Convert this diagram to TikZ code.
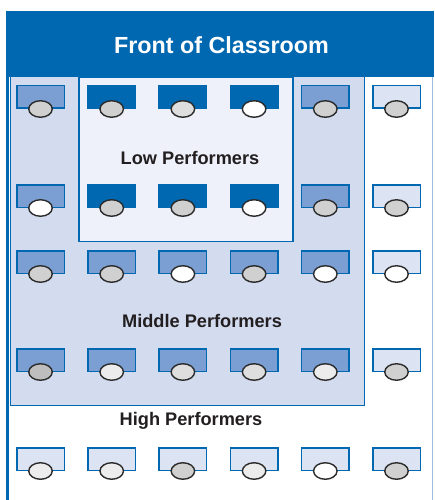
\documentclass[tikz,border=0pt]{standalone}
\usepackage{fontspec}
\setmainfont{Liberation Sans}
\usetikzlibrary{positioning,shapes.geometric}
\definecolor{RoomBlue}{HTML}{0067B1}
\definecolor{RoomMid}{HTML}{7B9FD2}
\definecolor{RoomPale}{HTML}{DCE3F2}
\definecolor{ZoneMid}{HTML}{D3DCEF}
\definecolor{ZoneLow}{HTML}{EEF1FA}
\definecolor{RoomEdge}{HTML}{9DBCE0}
\definecolor{RoomInk}{HTML}{231F20}
\definecolor{SeatRim}{HTML}{2B2B2B}
\definecolor{SeatDark}{HTML}{BEBEBE}
\definecolor{SeatMid}{HTML}{D0D0D0}
\definecolor{SeatSoft}{HTML}{DEDEDE}
\definecolor{SeatLight}{HTML}{ECECEC}

\begin{document}
\begin{tikzpicture}[x=1pt,y=-1pt,
    desk/.style={rectangle,draw=RoomBlue,line width=1.5pt,minimum width=47.5pt,minimum height=22.5pt,inner sep=0pt},
    lowdesk/.style={desk,fill=RoomBlue},
    middesk/.style={desk,fill=RoomMid},
    highdesk/.style={desk,fill=RoomPale},
    seat/.style={ellipse,draw=SeatRim,line width=1.4pt,minimum width=23.5pt,minimum height=16.5pt,inner sep=0pt},
    zonetext/.style={anchor=base,text=RoomInk,font=\bfseries\fontsize{18.2}{20}\selectfont}
  ]
    \useasboundingbox (0,0) rectangle (434,500);
    % room and seating zones
    \fill[RoomBlue] (7,11) rectangle (434,77);
    \draw[RoomBlue,line width=1pt,fill=ZoneMid] (10.5,77) rectangle (364,405.5);
    \draw[RoomBlue,line width=1.2pt,fill=ZoneLow] (79,77) rectangle (293,241.5);
    \draw[RoomBlue,line width=2.5pt] (7.5,11) -- (7.5,500);
    \draw[RoomEdge,line width=0.8pt] (432,77) -- (432,500);

    % desks with their seats, row by row
    \foreach \c/\kind/\tone in {1/middesk/SeatMid,2/lowdesk/SeatMid,3/lowdesk/SeatSoft,4/lowdesk/white,5/middesk/SeatMid,6/highdesk/SeatMid}{
      \node[\kind] (desk-1-\c) at ({40.5+71.2*(\c-1)},97) {};
      \node[seat,fill=\tone] (seat-1-\c) at (desk-1-\c.south) {};
    }
    \foreach \c/\kind/\tone in {1/middesk/white,2/lowdesk/SeatMid,3/lowdesk/SeatMid,4/lowdesk/white,5/middesk/SeatMid,6/highdesk/SeatMid}{
      \node[\kind] (desk-2-\c) at ({40.5+71.2*(\c-1)},196) {};
      \node[seat,fill=\tone] (seat-2-\c) at (desk-2-\c.south) {};
    }
    \foreach \c/\kind/\tone in {1/middesk/SeatMid,2/middesk/SeatMid,3/middesk/white,4/middesk/SeatMid,5/middesk/white,6/highdesk/white}{
      \node[\kind] (desk-3-\c) at ({40.5+71.2*(\c-1)},262) {};
      \node[seat,fill=\tone] (seat-3-\c) at (desk-3-\c.south) {};
    }
    \foreach \c/\kind/\tone in {1/middesk/SeatDark,2/middesk/SeatLight,3/middesk/SeatSoft,4/middesk/SeatSoft,5/middesk/SeatLight,6/highdesk/SeatMid}{
      \node[\kind] (desk-4-\c) at ({40.5+71.2*(\c-1)},360) {};
      \node[seat,fill=\tone] (seat-4-\c) at (desk-4-\c.south) {};
    }
    \foreach \c/\kind/\tone in {1/highdesk/SeatLight,2/highdesk/SeatLight,3/highdesk/SeatMid,4/highdesk/SeatLight,5/highdesk/white,6/highdesk/SeatMid}{
      \node[\kind] (desk-5-\c) at ({40.5+71.2*(\c-1)},459) {};
      \node[seat,fill=\tone] (seat-5-\c) at (desk-5-\c.south) {};
    }

    \node[anchor=base,text=white,font=\bfseries\fontsize{23.3}{26}\selectfont] (front) at (221.5,53.5) {Front of Classroom};
    \node[zonetext] (low) at (190,164) {Low Performers};
    \node[zonetext] (middle) at (202,327) {Middle Performers};
    \node[zonetext] (high) at (191,425.5) {High Performers};
  \end{tikzpicture}
\end{document}
